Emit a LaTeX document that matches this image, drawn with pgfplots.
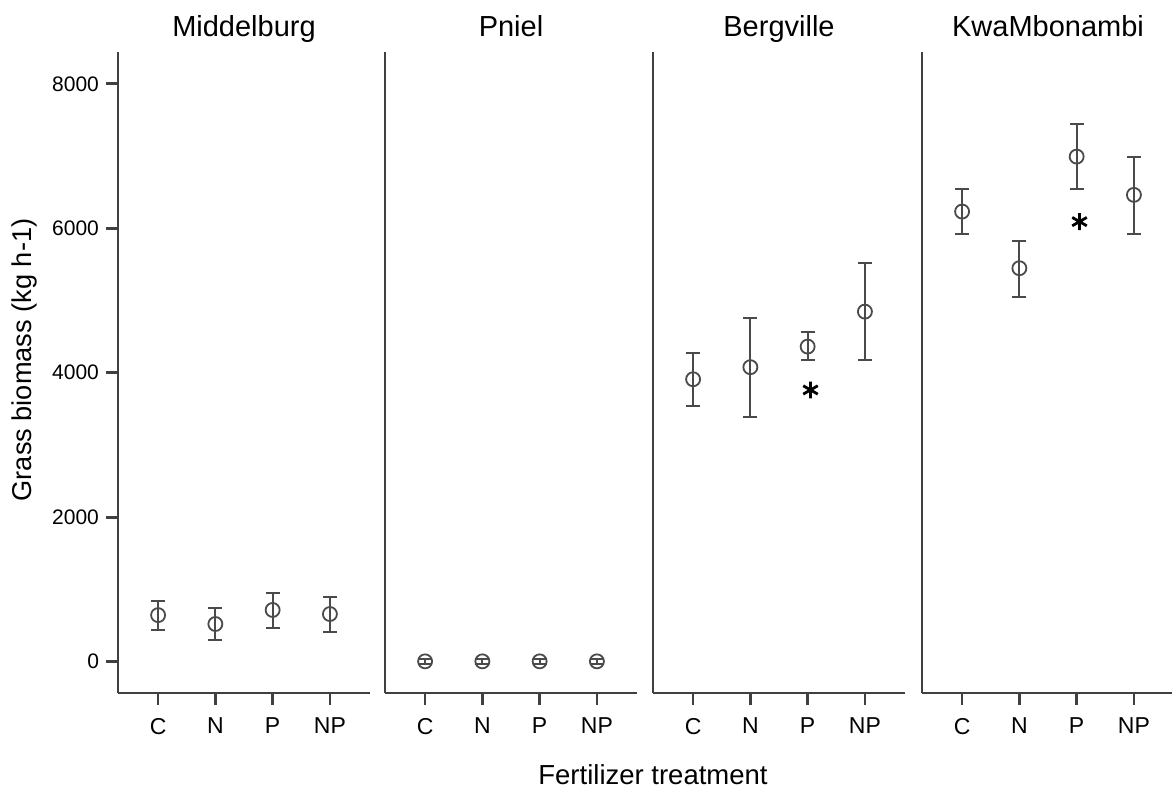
\documentclass[border=0pt]{standalone}
\usepackage{fontspec}
\setmainfont{Liberation Sans}
\usepackage{pgfplots}
\pgfplotsset{compat=1.18}
\usepackage{pgfplotstable}

\pgfplotstableread{
x y ep em
1 645 200 205
2 522 217 222
3 716 231 245
4 660 231 245
}\middelburg
\pgfplotstableread{
x y ep em
1 5 35 35
2 5 35 35
3 5 35 35
4 5 35 35
}\pniel
\pgfplotstableread{
x y ep em
1 3910 369 370
2 4077 686 689
3 4362 199 185
4 4846 675 669
}\bergville
\pgfplotstableread{
x y ep em
1 6231 310 313
2 5447 378 402
3 6992 453 451
4 6462 522 540
}\kwambonambi

\definecolor{axisgray}{HTML}{404040}
\definecolor{markgray}{HTML}{4A4A4A}

\pgfplotsset{
  panel/.style={
    scale only axis,
    width=126pt, height=320.5pt,
    xmin=0.3, xmax=4.7,
    ymin=-433, ymax=8440,
    axis x line=bottom, axis y line=left,
    axis line style={-, line width=1.3pt, color=axisgray},
    tick align=outside,
    major tick length=6pt,
    tick style={line width=1.3pt, color=axisgray},
    xtick={1,2,3,4},
    xticklabels={C,N,P,NP},
    xticklabel style={font=\fontsize{11.5}{13}\selectfont, yshift=-3pt},
    yticklabel style={font=\fontsize{10.5}{12}\selectfont},
    /pgf/number format/assume math mode=true,
    clip=false,
    title style={at={(0.5,1)}, anchor=base, yshift=1.5pt, font=\fontsize{14.5}{17}\selectfont},
    anchor=south west,
  },
  pts/.style={
    only marks, mark=o, mark size=3.5pt,
    mark options={line width=0.9pt, draw=markgray},
    color=markgray,
    error bars/.cd, y dir=both, y explicit,
    error bar style={line width=1pt, color=markgray},
    error mark options={rotate=90, mark size=3.5pt, line width=1pt, color=markgray},
  },
  star/.style={only marks, mark=asterisk, mark size=4.2pt, mark options={line width=1.4pt, black}},
}

\begin{document}
\begin{tikzpicture}
\begin{axis}[panel, at={(59pt,48.5pt)}, title={Middelburg},
  ytick={0,2000,4000,6000,8000}, yticklabels={0,2000,4000,6000,8000}]
\addplot[pts] table[x=x, y=y, y error plus=ep, y error minus=em] {\middelburg};
\end{axis}
\begin{axis}[panel, at={(192.5pt,48.5pt)}, title={Pniel}, ytick=\empty]
\addplot[pts] table[x=x, y=y, y error plus=ep, y error minus=em] {\pniel};
\end{axis}
\begin{axis}[panel, at={(326.5pt,48.5pt)}, title={Bergville}, ytick=\empty]
\addplot[pts] table[x=x, y=y, y error plus=ep, y error minus=em] {\bergville};
\addplot[star] coordinates {(3.05,3762)};
\end{axis}
\begin{axis}[panel, at={(461pt,48.5pt)}, title={KwaMbonambi}, ytick=\empty]
\addplot[pts] table[x=x, y=y, y error plus=ep, y error minus=em] {\kwambonambi};
\addplot[star] coordinates {(3.05,6092)};
\end{axis}
\node[anchor=base, font=\fontsize{13.75}{16}\selectfont] at (326.5pt,2.5pt) {Fertilizer treatment};
\node[anchor=base, rotate=90, font=\fontsize{13.6}{16}\selectfont] at (16pt,215pt) {Grass biomass (kg h-1)};
\pgfresetboundingbox
\path[use as bounding box] (0,0) rectangle (586pt,395pt);
\end{tikzpicture}
\end{document}
